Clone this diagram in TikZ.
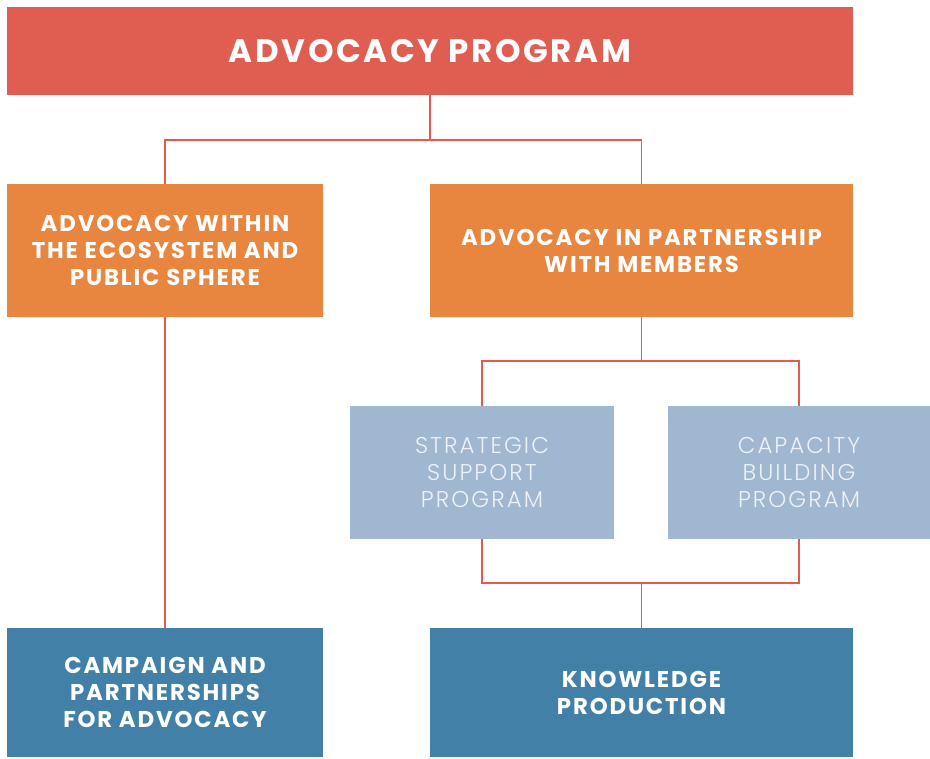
\documentclass[tikz,border=0pt]{standalone}
\usepackage{fontspec}
\setmainfont{Poppins}[LetterSpace=8]
\newfontfamily\lightfont{Poppins Light}[LetterSpace=9]

\definecolor{progred}{HTML}{E05D51}
\definecolor{armorange}{HTML}{E8853F}
\definecolor{supportblue}{HTML}{9FB7D0}
\definecolor{outblue}{HTML}{4380A8}
\definecolor{linkred}{HTML}{E35A4E}
\definecolor{paletext}{HTML}{EEF1F6}

\begin{document}
\begin{tikzpicture}[x=0.02cm,y=-0.02cm,
  box/.style={rectangle,inner sep=0pt,align=center,text=white},
  headbox/.style={box,fill=progred,minimum width=16.92cm,minimum height=1.76cm,
    font=\bfseries\fontsize{18.5}{21}\selectfont},
  armbox/.style={box,fill=armorange,minimum height=2.66cm,
    font=\bfseries\fontsize{13}{15.4}\selectfont},
  supbox/.style={box,fill=supportblue,minimum height=2.66cm,text=paletext,
    font=\lightfont\fontsize{13}{15.4}\selectfont},
  outbox/.style={box,fill=outblue,minimum height=2.58cm,
    font=\bfseries\fontsize{13}{15.4}\selectfont},
  link/.style={draw=linkred,line width=0.6pt}]
  \useasboundingbox (0,0) rectangle (930,758);

  %% top
  \node[headbox] (program) at (430,51) {ADVOCACY PROGRAM};

  %% two arms
  \node[armbox,minimum width=6.32cm] (ecosystem) at (165,250.5)
    {ADVOCACY WITHIN\\THE ECOSYSTEM AND\\PUBLIC SPHERE};
  \node[armbox,minimum width=8.46cm] (members) at (641.5,250.5)
    {ADVOCACY IN PARTNERSHIP\\WITH MEMBERS};

  %% support programs
  \node[supbox,minimum width=5.28cm] (strategic) at (482,472.5)
    {STRATEGIC\\SUPPORT\\PROGRAM};
  \node[supbox,minimum width=5.24cm] (capacity) at (799,472.5)
    {CAPACITY\\BUILDING\\PROGRAM};

  %% outputs
  \node[outbox,minimum width=6.32cm] (campaign) at (165,692.5)
    {CAMPAIGN AND\\PARTNERSHIPS\\FOR ADVOCACY};
  \node[outbox,minimum width=8.46cm] (knowledge) at (641.5,692.5)
    {KNOWLEDGE\\PRODUCTION};

  %% links
  \coordinate (topjoin) at (430,140);
  \coordinate (armjoin) at (641.5,361);
  \coordinate (supjoin) at (641.5,583);
  \draw[link] (program.south) -- (topjoin);
  \draw[link] (ecosystem.north) -- (ecosystem.north |- topjoin)
    -- (members.north |- topjoin) -- (members.north);
  \draw[link] (ecosystem.south) -- (campaign.north);
  \draw[link] (members.south) -- (armjoin);
  \draw[link] (strategic.north) -- (strategic.north |- armjoin)
    -- (capacity.north |- armjoin) -- (capacity.north);
  \draw[link] (strategic.south) -- (strategic.south |- supjoin)
    -- (capacity.south |- supjoin) -- (capacity.south);
  \draw[link] (supjoin) -- (knowledge.north);
\end{tikzpicture}
\end{document}
